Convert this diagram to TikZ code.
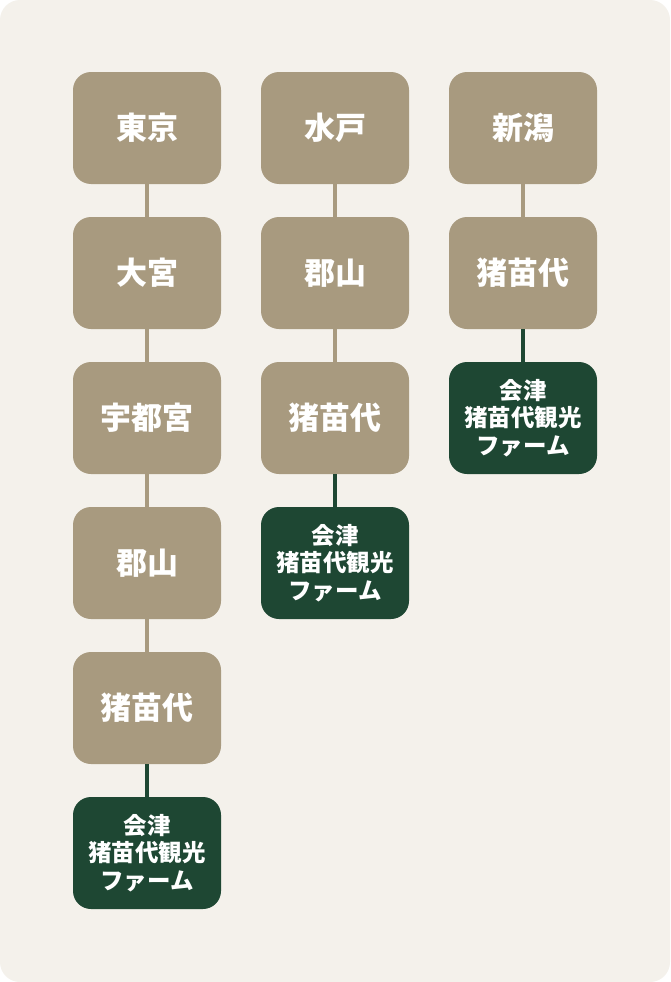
\documentclass[tikz,border=0pt]{standalone}
\usepackage{fontspec}
\newfontfamily\jpfont{Noto Sans CJK JP}
\definecolor{paper}{HTML}{F4F1EB}
\definecolor{sand}{HTML}{A89A7F}
\definecolor{pine}{HTML}{1E4733}

\begin{document}
\begin{tikzpicture}[x=1pt,y=-1pt,
    stop/.style={fill=sand, text=white, rounded corners=18pt, minimum width=148pt, minimum height=112pt, inner sep=0pt, font=\jpfont\bfseries\fontsize{31}{34}\selectfont},
    goal/.style={stop, fill=pine, align=center, font=\jpfont\bfseries\fontsize{23.5}{27.8}\selectfont},
    link/.style={line width=4.5pt, draw=sand},
    golink/.style={line width=4.5pt, draw=pine}]
\fill [white] (0,0) rectangle (670,982);
\fill [paper, rounded corners=20pt] (0,0) rectangle (670,982);
% Tokyo route
\node [stop] (tokyo) at (147,128) {東京};
\node [stop] (omiya) at (147,273) {大宮};
\node [stop] (utsunomiya) at (147,418) {宇都宮};
\node [stop] (koriyamaA) at (147,563) {郡山};
\node [stop] (inawashiroA) at (147,708) {猪苗代};
\node [goal] (farmA) at (147,853) {会津\\猪苗代観光\\ファーム};
\draw [link] (tokyo) to (omiya);
\draw [link] (omiya) to (utsunomiya);
\draw [link] (utsunomiya) to (koriyamaA);
\draw [link] (koriyamaA) to (inawashiroA);
\draw [golink] (inawashiroA) to (farmA);
% Mito route
\node [stop] (mito) at (335,128) {水戸};
\node [stop] (koriyamaB) at (335,273) {郡山};
\node [stop] (inawashiroB) at (335,418) {猪苗代};
\node [goal] (farmB) at (335,563) {会津\\猪苗代観光\\ファーム};
\draw [link] (mito) to (koriyamaB);
\draw [link] (koriyamaB) to (inawashiroB);
\draw [golink] (inawashiroB) to (farmB);
% Niigata route
\node [stop] (niigata) at (523,128) {新潟};
\node [stop] (inawashiroC) at (523,273) {猪苗代};
\node [goal] (farmC) at (523,418) {会津\\猪苗代観光\\ファーム};
\draw [link] (niigata) to (inawashiroC);
\draw [golink] (inawashiroC) to (farmC);
\end{tikzpicture}
\end{document}
